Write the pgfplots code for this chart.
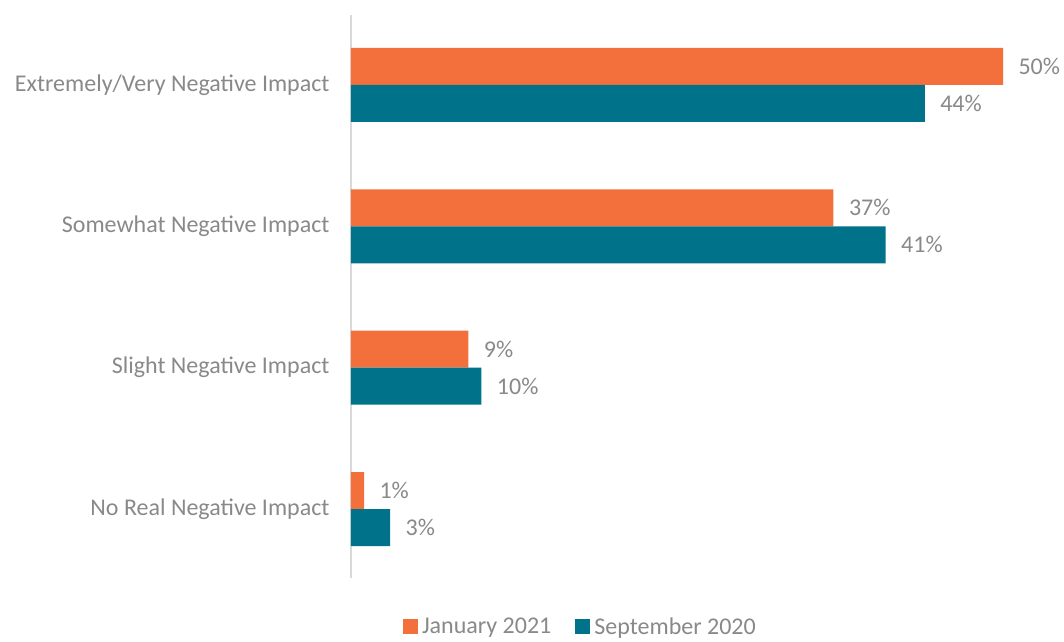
\documentclass[border=0pt]{standalone}
\usepackage{pgfplots}
\pgfplotsset{compat=1.18}
\usepackage{fontspec}
\setmainfont{Carlito}
\definecolor{janorange}{HTML}{F3703D}
\definecolor{septeal}{HTML}{00728A}
\definecolor{txtgray}{HTML}{898989}
\definecolor{axgray}{HTML}{D9D9D9}
\newcommand\lab{\fontsize{24}{28}\selectfont}
\begin{document}
\begin{tikzpicture}
\path[use as bounding box] (-351pt,-63pt) rectangle (713pt,578pt);
\begin{axis}[
    scale only axis,
    width=652pt, height=563pt,
    xmin=0, xmax=50,
    ymin=-0.488, ymax=3.495,
    xbar, bar width=37pt,
    axis x line=none,
    axis y line*=left,
    y axis line style={draw=axgray, line width=1.5pt, -},
    ytick={0,1,2,3},
    yticklabels={No Real Negative Impact, Slight Negative Impact,
                 Somewhat Negative Impact, Extremely/Very Negative Impact},
    major tick length=0pt,
    yticklabel style={font=\lab, text=txtgray, xshift=-18pt},
    point meta=x,
    nodes near coords={\pgfmathprintnumber[assume math mode=true]{\pgfplotspointmeta}\%},
    nodes near coords style={font=\lab, text=txtgray, anchor=west, xshift=12pt},
    clip=false,
    legend style={at={(0.075,-0.086)}, anchor=west, draw=none, font=\lab,
        text=txtgray, legend columns=2,
        /tikz/every even column/.append style={column sep=22pt}},
    legend image code/.code={\fill[#1] (0pt,-7.5pt) rectangle (15pt,7.5pt);
        \path (17pt,0pt);},
]
\addplot[draw=none, fill=janorange, bar shift=18.5pt]
    coordinates {(1,0) (9,1) (37,2) (50,3)};
\addplot[draw=none, fill=septeal, bar shift=-18.5pt]
    coordinates {(3,0) (10,1) (41,2) (44,3)};
\legend{January 2021, September 2020}
\end{axis}
\end{tikzpicture}
\end{document}
